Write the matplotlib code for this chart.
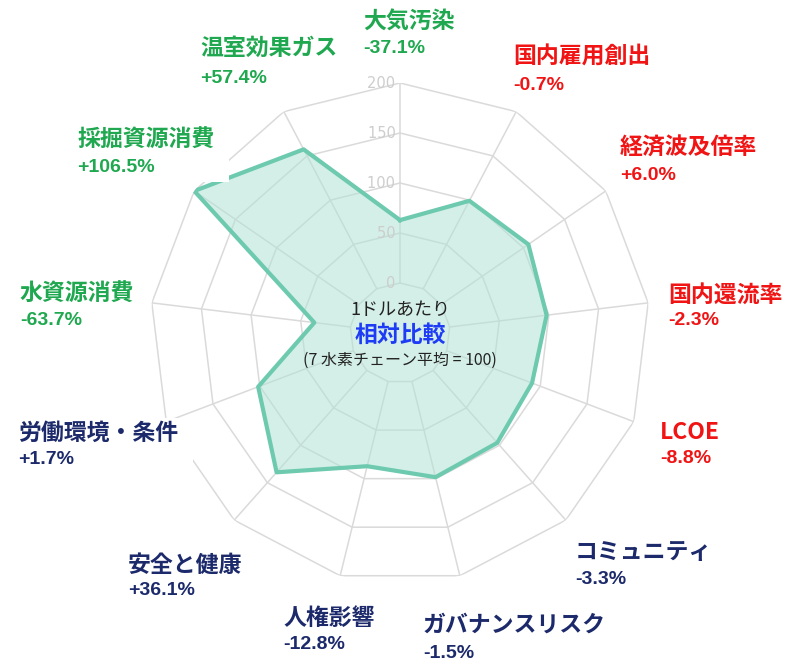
import numpy as np
import matplotlib.pyplot as plt
from matplotlib.patches import Rectangle

plt.rcParams['font.family'] = ['Noto Sans CJK JP', 'DejaVu Sans']

# axes, clockwise from the top
labels = ['大気汚染', '国内雇用創出', '経済波及倍率', '国内還流率', 'LCOE', 'コミュニティ',
          'ガバナンスリスク', '人権影響', '安全と健康', '労働環境・条件', '水資源消費',
          '採掘資源消費', '温室効果ガス']
pct = [-37.1, -0.7, 6.0, -2.3, -8.8, -3.3, -1.5, -12.8, 36.1, 1.7, -63.7, 106.5, 57.4]
groups = ['env', 'eco', 'eco', 'eco', 'eco', 'soc', 'soc', 'soc', 'soc', 'soc', 'env', 'env', 'env']
ticks = [0, 50, 100, 150, 200]

values = np.array([100 + p for p in pct])

group_col = {'env': '#1fa84f', 'eco': '#f01414', 'soc': '#1c2a6b'}

# label placement in pixels from the top-left: (x, name top, pct top)
lab_pos = [(363, 11, 40), (513, 46, 77), (620, 137, 167), (668, 284, 312), (660, 421, 450),
           (575, 541, 571), (423, 614, 645), (283, 607, 636), (128, 554, 582), (18, 422, 451),
           (20, 283, 312), (77, 129, 159), (200, 37, 70)]

W, H = 790, 664
fig = plt.figure(figsize=(W / 100, H / 100), dpi=100)
ax = fig.add_axes([150 / W, 1 - 583 / H, 500 / W, 500 / H], projection='polar')
ax.set_theta_zero_location('N')
ax.set_theta_direction(-1)
ax.set_ylim(-50, 200)
ax.axis('off')

n = len(labels)
ang = np.arange(n) * 2 * np.pi / n
ang_c = np.append(ang, ang[0])

grid_col = '#dadada'
for t in ticks:
    ax.plot(ang_c, [t] * (n + 1), color=grid_col, lw=1.1, zorder=1)
for a in ang:
    ax.plot([a, a], [0, 200], color=grid_col, lw=1.1, zorder=1)

v = np.minimum(values, 200)
v_c = np.append(v, v[0])
ax.fill(ang_c, v_c, color='#b2e3d5', alpha=0.55, zorder=2, lw=0)
ax.plot(ang_c, v_c, color='#6dcaae', lw=3, zorder=3)

for t in ticks:
    ax.text(0, t, str(t) + ' ', ha='right', va='center', fontsize=10.5,
            color='#cdcdcd', family=['DejaVu Sans'], zorder=4)

# centre caption
fig.text(400 / W, 1 - 310 / H, '1ドルあたり', ha='center', va='center', fontsize=13, color='#222222')
fig.text(400 / W, 1 - 335 / H, '相対比較', ha='center', va='center', fontsize=16.5,
         color='#1e3cf5', fontweight='bold')
fig.text(400 / W, 1 - 360 / H, '(7 水素チェーン平均 = 100)', ha='center', va='center',
         fontsize=11.5, color='#222222')

items = []
for i in range(n):
    x, y1, y2 = lab_pos[i]
    c = group_col[groups[i]]
    t1 = fig.text(x / W, 1 - y1 / H, labels[i], ha='left', va='top', fontsize=16.5,
                  fontweight='bold', color=c, zorder=5)
    t2 = fig.text(x / W, 1 - y2 / H, '%+.1f%%' % pct[i], ha='left', va='top', fontsize=14,
                  fontweight='bold', color=c, family=['Liberation Sans', 'DejaVu Sans'], zorder=5)
    items.append((t1, t2))

# white text boxes behind the labels (they hide bits of the grid, as in the slide)
fig.canvas.draw()
r = fig.canvas.get_renderer()
for t1, t2 in items:
    b1 = t1.get_window_extent(r)
    b2 = t2.get_window_extent(r)
    x0 = min(b1.x0, b2.x0) - 5
    x1 = max(b1.x1, b2.x1) + 15
    y0 = min(b1.y0, b2.y0) - 6
    y1 = max(b1.y1, b2.y1) + 4
    fig.add_artist(Rectangle((x0 / W, y0 / H), (x1 - x0) / W, (y1 - y0) / H,
                             transform=fig.transFigure, facecolor='white',
                             edgecolor='none', zorder=2))

fig.savefig('out.png', dpi=100)
